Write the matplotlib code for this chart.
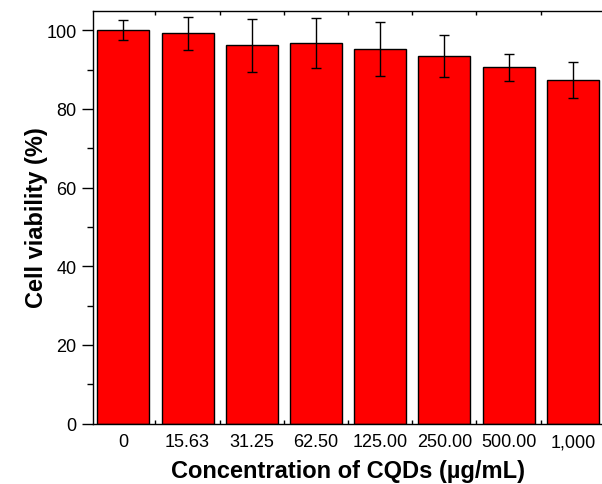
import matplotlib.pyplot as plt
import numpy as np
from matplotlib.ticker import MultipleLocator

plt.rcParams['font.family'] = ['Liberation Sans', 'DejaVu Sans']

# Cell viability data
concentrations = ['0', '15.63', '31.25', '62.50', '125.00', '250.00', '500.00', '1,000']
viability = [100.0, 99.3, 96.2, 96.7, 95.3, 93.4, 90.6, 87.4]
viability_err = [2.5, 4.2, 6.8, 6.4, 6.8, 5.3, 3.4, 4.5]

fig = plt.figure(figsize=(6.02, 4.85), dpi=100)
ax = fig.add_axes([0.1537, 0.1247, 0.849, 0.8513])

x = np.arange(len(concentrations))
ax.bar(x, viability, width=0.81, color='#ff0000', edgecolor='black', linewidth=1.0,
       yerr=viability_err, capsize=3.5,
       error_kw=dict(ecolor='black', elinewidth=1.0, capthick=1.0))

ax.set_xlim(-0.48, 7.48)
ax.set_ylim(0, 105)
ax.set_xticks(x)
ax.set_xticklabels(concentrations)
ax.xaxis.set_minor_locator(MultipleLocator(0.5))
ax.yaxis.set_major_locator(MultipleLocator(20))
ax.yaxis.set_minor_locator(MultipleLocator(10))

ax.tick_params(axis='y', which='major', direction='out', length=8, width=1, labelsize=13)
ax.tick_params(axis='y', which='minor', direction='out', length=4, width=1)
ax.tick_params(axis='x', which='both', direction='in', length=3, width=1, top=True,
               labelsize=13, pad=7)
ax.tick_params(axis='x', which='major', length=0)

for s in ax.spines.values():
    s.set_linewidth(1.0)
ax.spines['right'].set_visible(False)

ax.set_xlabel('Concentration of CQDs (µg/mL)', fontsize=17, fontweight='bold', labelpad=6.5)
ax.set_ylabel('Cell viability (%)', fontsize=17, fontweight='bold', labelpad=-1)

fig.savefig('out.png', dpi=100)
